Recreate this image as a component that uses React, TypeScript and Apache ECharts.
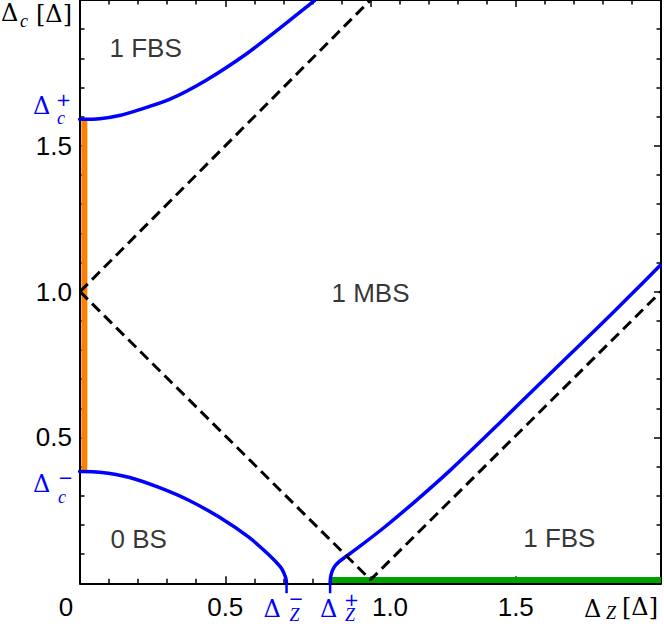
import React, { useEffect, useRef } from "react";
import * as echarts from "echarts";

// ---- data ----
const deltaCMinus = 0.383;
const deltaCPlus = 1.591;
const deltaZMinus = 0.711;
const deltaZPlus = 0.861;

const upperX = [0, 0.068, 0.14, 0.205, 0.308, 0.433, 0.57, 0.684, 0.792, 0.81];
const upperY = [1.591, 1.593, 1.605, 1.624, 1.659, 1.724, 1.813, 1.9, 1.986, 2.0];

const lowerX = [0, 0.068, 0.171, 0.274, 0.376, 0.479, 0.581, 0.65, 0.69, 0.703, 0.709, 0.711];
const lowerY = [0.383, 0.381, 0.363, 0.328, 0.284, 0.227, 0.158, 0.098, 0.056, 0.033, 0.015, 0];

const rightX = [0.861, 0.862, 0.865, 0.871, 0.88, 0.893, 0.91, 0.957, 1.049, 1.162, 1.276, 1.39, 1.504, 1.778, 1.892, 1.989, 2.0];
const rightY = [0, 0.016, 0.032, 0.048, 0.062, 0.075, 0.088, 0.122, 0.193, 0.288, 0.389, 0.497, 0.608, 0.873, 0.985, 1.082, 1.093];

const dashUpX = [0, 1];
const dashUpY = [1, 2];
const dashVX = [0, 1, 2];
const dashVY = [1, 0.012, 1];

const orangeX = 0.015;
const greenY = 0.011;
const axisMax = 2;

const regionLabels = ["1 FBS", "1 MBS", "0 BS", "1 FBS"];
const regionX = [0.226, 1.0, 0.202, 1.65];
const regionY = [1.835, 0.995, 0.152, 0.155];

const tickLabels = ["0.5", "1.0", "1.5"];

const zip = (xs: number[], ys: number[]) => xs.map((x, i) => [x, ys[i]]);

const SANS = "Liberation Sans";
const SERIF = "Liberation Serif";
const DSERIF = "DejaVu Serif";
const BLUE = "#0000ff";

export default function App() {
  const ref = useRef<HTMLDivElement>(null);

  useEffect(() => {
    if (!ref.current) return;
    const chart = echarts.init(ref.current, null, { renderer: "svg" });

    const axisCommon = {
      type: "value" as const,
      min: 0,
      max: axisMax,
      interval: 0.5,
      axisLine: { show: true, onZero: false, lineStyle: { color: "#000", width: 2 } },
      axisTick: { show: true, inside: true, length: 7, lineStyle: { color: "#000", width: 1.5 } },
      minorTick: { show: true, splitNumber: 5, length: 4.5, lineStyle: { color: "#000", width: 1.5 } },
      splitLine: { show: false },
      minorSplitLine: { show: false },
    };

    const blueLine = (data: number[][]) => ({
      type: "line",
      data,
      symbol: "none",
      smooth: 0.25,
      lineStyle: { color: BLUE, width: 3.5, join: "round" },
      z: 4,
    });

    const fmt = (v: number, shiftOne: boolean) => {
      if (Math.abs(v - 0.5) < 1e-6) return tickLabels[0];
      if (Math.abs(v - 1) < 1e-6) return shiftOne ? "{s|" + tickLabels[1] + "}" : tickLabels[1];
      if (Math.abs(v - 1.5) < 1e-6) return tickLabels[2];
      return "";
    };

    const option: any = {
      animation: false,
      backgroundColor: "#fff",
      grid: { left: 80, top: -1.3, width: 583, height: 584.6, containLabel: false },
      xAxis: [
        {
          ...axisCommon,
          position: "bottom",
          axisLabel: {
            show: true,
            margin: 11,
            color: "#000",
            fontFamily: SANS,
            fontSize: 26,
            showMinLabel: true,
            showMaxLabel: true,
            hideOverlap: false,
            formatter: (v: number) => fmt(v, true),
            rich: { s: { fontFamily: SANS, fontSize: 26, color: "#000", padding: [0, 0, 0, 39] } },
          },
        },
        { ...axisCommon, position: "top", axisLabel: { show: false } },
      ],
      yAxis: [
        {
          ...axisCommon,
          position: "left",
          axisLabel: {
            show: true,
            margin: 8,
            color: "#000",
            fontFamily: SANS,
            fontSize: 26,
            formatter: (v: number) => fmt(v, false),
          },
        },
        { ...axisCommon, position: "right", axisLabel: { show: false } },
      ],
      series: [
        {
          type: "line",
          data: [[orangeX, deltaCMinus], [orangeX, deltaCPlus]],
          symbol: "none",
          lineStyle: { color: "#ff8000", width: 6, cap: "butt" },
          z: 2,
        },
        {
          type: "line",
          data: [[deltaZPlus, greenY], [axisMax, greenY]],
          symbol: "none",
          lineStyle: { color: "#00a000", width: 6, cap: "butt" },
          z: 2,
        },
        blueLine(zip(upperX, upperY)),
        blueLine(zip(lowerX, lowerY)),
        blueLine(zip(rightX, rightY)),
        // blue tick marks for the special values
        { type: "line", data: [[deltaZMinus, 0], [deltaZMinus, -0.034]], symbol: "none", clip: false, lineStyle: { color: BLUE, width: 2.5 }, z: 4 },
        { type: "line", data: [[deltaZPlus, 0], [deltaZPlus, -0.034]], symbol: "none", clip: false, lineStyle: { color: BLUE, width: 2.5 }, z: 4 },
        { type: "line", data: [[-0.03, deltaCPlus], [0, deltaCPlus]], symbol: "none", clip: false, lineStyle: { color: BLUE, width: 2.5 }, z: 4 },
        { type: "line", data: [[-0.03, deltaCMinus], [0, deltaCMinus]], symbol: "none", clip: false, lineStyle: { color: BLUE, width: 2.5 }, z: 4 },
        {
          type: "line",
          data: zip(dashUpX, dashUpY),
          symbol: "none",
          lineStyle: { color: "#000", width: 3, type: [11, 6] },
          z: 5,
        },
        {
          type: "line",
          data: zip(dashVX, dashVY),
          symbol: "none",
          lineStyle: { color: "#000", width: 3, type: [11, 6] },
          z: 5,
        },
        {
          type: "scatter",
          data: regionLabels.map((t, i) => ({ value: [regionX[i], regionY[i]], name: t })),
          symbolSize: 1,
          itemStyle: { color: "rgba(0,0,0,0)" },
          label: {
            show: true,
            position: "inside",
            formatter: (p: any) => p.name,
            color: "#000",
            fontFamily: SANS,
            fontSize: 26,
          },
          z: 6,
        },
      ],
    };

    chart.setOption(option);

    const px = (x: number, y: number) =>
      chart.convertToPixel({ xAxisIndex: 0, yAxisIndex: 0 }, [x, y]) as number[];

    const t = (
      x: number,
      y: number,
      text: string,
      opts: { size: number; family?: string; italic?: boolean; color?: string; align?: string }
    ) => ({
      type: "text",
      x,
      y,
      z: 10,
      style: {
        text,
        fill: opts.color || "#000",
        fontSize: opts.size,
        fontFamily: opts.family || SERIF,
        fontStyle: opts.italic ? "italic" : "normal",
        align: opts.align || "left",
        verticalAlign: "middle",
        lineHeight: Math.round(opts.size * 0.8),
      },
    });

    const zm = px(deltaZMinus, 0);
    const zp = px(deltaZPlus, 0);
    const cp = px(0, deltaCPlus);
    const cm = px(0, deltaCMinus);
    const o = px(0, 0);

    const D = { size: 24, family: DSERIF };
    const DB = { ...D, color: BLUE };
    const SUP = { size: 18, family: "DejaVu Sans", color: BLUE };
    const SUB = { size: 18, italic: true };
    const SUBB = { ...SUB, color: BLUE };

    const graphic = [
      // origin label
      t(o[0] - 14, o[1] + 24, "0", { size: 26, family: SANS, align: "center" }),
      // Δ_Z^-
      t(zm[0] - 23, zm[1] + 26, "Δ", DB),
      t(zm[0] + 2, zm[1] + 15, "−", SUP),
      t(zm[0] + 3, zm[1] + 32, "Z", SUBB),
      // Δ_Z^+
      t(zp[0] - 10, zp[1] + 26, "Δ", DB),
      t(zp[0] + 14, zp[1] + 16, "+", SUP),
      t(zp[0] + 15, zp[1] + 32, "Z", SUBB),
      // Δ_c^+
      t(cp[0] - 47, cp[1] - 13, "Δ", DB),
      t(cp[0] - 24, cp[1] - 20, "+", SUP),
      t(cp[0] - 23, cp[1] - 1, "c", SUBB),
      // Δ_c^-
      t(cm[0] - 47, cm[1] + 12, "Δ", DB),
      t(cm[0] - 22, cm[1] + 6, "−", SUP),
      t(cm[0] - 22, cm[1] + 25, "c", SUBB),
      // axis title x: Δ_Z[Δ]
      t(584, 609, "Δ", D),
      t(606, 613, "Z", SUB),
      t(622, 607, "[Δ]", { size: 24, family: DSERIF }),
      // axis title y: Δ_c[Δ]
      t(1, 13, "Δ", D),
      t(20, 21, "c", SUB),
      t(36, 14, "[Δ]", { size: 24, family: DSERIF }),
    ];

    chart.setOption({ graphic });

    return () => chart.dispose();
  }, []);

  return (
    <div
      ref={ref}
      style={{ position: "absolute", left: 0, top: 0, width: 664, height: 626 }}
    />
  );
}
